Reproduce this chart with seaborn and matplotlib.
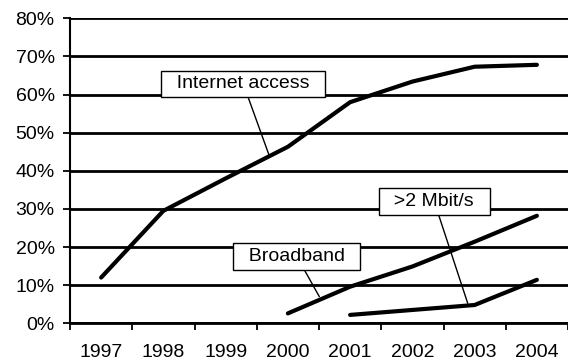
import matplotlib
matplotlib.use("Agg")
import matplotlib.pyplot as plt
import numpy as np
import pandas as pd
import seaborn as sns

# Share of households by year (percent)
years = [1997, 1998, 1999, 2000, 2001, 2002, 2003, 2004]
internet = [12.0, 29.5, 38.0, 46.3, 58.0, 63.4, 67.3, 67.8]
broadband = [np.nan, np.nan, np.nan, 2.6, 9.6, 14.9, 21.4, 28.2]
mbit2 = [np.nan, np.nan, np.nan, np.nan, 2.2, 3.5, 4.8, 11.4]
series_names = ["Internet access", "Broadband", ">2 Mbit/s"]
y_ticks = [0, 10, 20, 30, 40, 50, 60, 70, 80]

df = pd.DataFrame({
    "year": years * 3,
    "share": internet + broadband + mbit2,
    "series": [series_names[0]] * 8 + [series_names[1]] * 8 + [series_names[2]] * 8,
}).dropna()

sns.set_style("white")
plt.rcParams["font.family"] = ["Liberation Sans", "DejaVu Sans"]
FS = 14

fig = plt.figure(figsize=(5.68, 3.63), dpi=100)
ax = fig.add_axes([70 / 568, 1 - 323.3 / 363, 1 - 70 / 568, (323.3 - 18.3) / 363])

sns.lineplot(data=df, x="year", y="share", hue="series",
             palette=["black"] * 3, linewidth=3.0, legend=False,
             solid_capstyle="round", ax=ax, zorder=3)

ax.set_xlim(years[0] - 0.5, years[-1] + 0.5)
ax.set_ylim(0, 80)
ax.set_xlabel("")
ax.set_ylabel("")

# horizontal gridlines
ax.set_yticks(y_ticks)
ax.set_yticklabels([f"{v}%" for v in y_ticks])
ax.yaxis.grid(True, color="black", linewidth=2.0)
ax.set_axisbelow(True)

# year labels centred between boundary ticks
ax.set_xticks([y - 0.5 for y in years] + [years[-1] + 0.5])
ax.set_xticklabels([])
ax.set_xticks(years, minor=True)
ax.set_xticklabels([str(y) for y in years], minor=True)
ax.tick_params(axis="x", which="major", direction="out", length=5, width=1.3,
               color="black", bottom=True)
ax.tick_params(axis="x", which="minor", length=0, pad=15, labelsize=FS,
               labelcolor="black")
ax.tick_params(axis="y", direction="out", length=5, width=1.3, color="black",
               left=True, pad=6, labelsize=FS, labelcolor="black")

for side in ("top", "right"):
    ax.spines[side].set_visible(False)
ax.spines["left"].set_color("black")
ax.spines["left"].set_linewidth(1.5)
ax.spines["bottom"].set_color("black")
ax.spines["bottom"].set_linewidth(2.0)

# callout labels with leader lines
callouts = [
    ("  Internet access  ", (1999.70, 44.0), (1999.284, 62.8)),
    ("  Broadband  ", (2000.505, 7.0), (2000.142, 17.6)),
    ("  >2 Mbit/s  ", (2002.889, 5.25), (2002.35, 32.0)),
]
for text, xy, xytext in callouts:
    ax.annotate(text, xy=xy, xytext=xytext, textcoords="data",
                ha="center", va="center", fontsize=FS, color="black",
                bbox=dict(boxstyle="square,pad=0.25", fc="white", ec="black", lw=1.0),
                arrowprops=dict(arrowstyle="-", color="black", lw=1.0,
                                shrinkA=0, shrinkB=0),
                zorder=4)

fig.savefig("out.png", dpi=100)
